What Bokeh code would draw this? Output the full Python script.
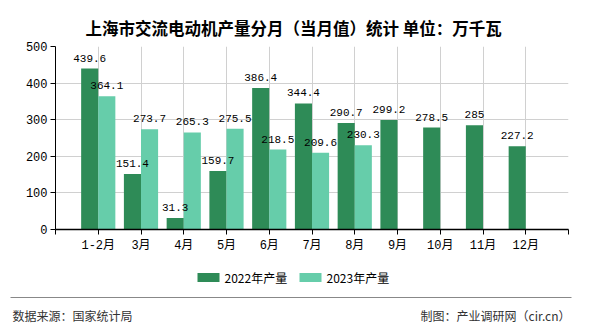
from bokeh.plotting import figure
from bokeh.models import ColumnDataSource, FixedTicker, Range1d, LabelSet
from bokeh.layouts import column
from bokeh.embed import file_html
from bokeh.resources import INLINE
from bokeh.core.properties import value

categories = ["1-2月", "3月", "4月", "5月", "6月", "7月", "8月", "9月", "10月", "11月", "12月"]
y2022 = [439.6, 151.4, 31.3, 159.7, 386.4, 344.4, 290.7, 299.2, 278.5, 285, 227.2]
y2023 = [364.1, 273.7, 265.3, 275.5, 218.5, 209.6, 230.3]
series_names = ["2022年产量", "2023年产量"]
yticks = [0, 100, 200, 300, 400, 500]
title_text = "上海市交流电动机产量分月（当月值）统计 单位：万千瓦"
source_text = "数据来源：国家统计局"
credit_text = "制图：产业调研网（cir.cn）"

C1 = "#2E8B57"
C2 = "#66CDAA"
MONO = "'Liberation Mono', 'Noto Sans CJK SC'"
CJK = "'Noto Sans CJK SC'"

W = 590
H1 = 262
H2 = 68
L, R, T, B = 55, 22, 46, 33

p = figure(width=W, height=H1, output_backend="svg", toolbar_location=None,
           x_range=Range1d(-1, len(categories)), y_range=Range1d(0, 500),
           min_border_left=L, min_border_right=R, min_border_top=T, min_border_bottom=B)
p.outline_line_color = None
p.background_fill_color = "white"
p.frame_align = False

n = len(categories)
s1 = ColumnDataSource(dict(x=[i - 0.2 for i in range(n)], top=y2022, lab=[f"{v:g}" for v in y2022]))
s2 = ColumnDataSource(dict(x=[i + 0.2 for i in range(len(y2023))], top=y2023, lab=[f"{v:g}" for v in y2023]))

p.vbar(x="x", top="top", width=0.4, source=s1, fill_color=C1, line_color=None)
p.vbar(x="x", top="top", width=0.4, source=s2, fill_color=C2, line_color=None)

for s in (s1, s2):
    p.add_layout(LabelSet(x="x", y="top", text="lab", source=s, text_align="center",
                          text_baseline="alphabetic", y_offset=7,
                          text_font=value(MONO), text_font_size="11px", text_color="black"))

# axes
p.xaxis.ticker = FixedTicker(ticks=list(range(-1, n + 1)))
ov = {i: c for i, c in enumerate(categories)}
ov[-1] = ""
ov[n] = ""
p.xaxis.major_label_overrides = ov
p.xaxis.major_label_text_font = MONO
p.xaxis.major_label_text_font_size = "12px"
p.xaxis.major_label_text_color = "black"
p.xaxis.axis_line_color = "black"
p.xaxis.axis_line_width = 1.5
p.xaxis.major_tick_line_color = "black"
p.xaxis.major_tick_out = 5
p.xaxis.major_tick_in = 0
p.xaxis.minor_tick_line_color = None
p.xaxis.major_label_standoff = 4

p.yaxis.ticker = FixedTicker(ticks=yticks)
p.yaxis.major_label_text_font = MONO
p.yaxis.major_label_text_font_size = "12px"
p.yaxis.major_label_text_color = "black"
p.yaxis.axis_line_color = "black"
p.yaxis.major_tick_line_color = "black"
p.yaxis.major_tick_out = 5
p.yaxis.major_tick_in = 0
p.yaxis.minor_tick_line_color = None
p.yaxis.major_label_standoff = 3

p.xgrid.ticker = FixedTicker(ticks=list(range(-1, n + 1)))
p.xgrid.grid_line_color = "#d0d0d0"
p.ygrid.grid_line_color = "#d0d0d0"

# title
p.title.text = title_text
p.title.align = "left"
p.title.offset = 30
p.title.standoff = 10
p.title.vertical_align = "top"
p.title.text_font = CJK
p.title.text_font_size = "16.5px"
p.title.text_font_style = "bold"
p.title.text_color = "black"

# legend + footer strip (frame covers the whole strip; coords are pixels from strip top-left)
p2 = figure(width=W, height=H2, output_backend="svg", toolbar_location=None,
            x_range=Range1d(0, W), y_range=Range1d(H2, 0),
            x_axis_location=None, y_axis_location=None,
            min_border=0, min_border_left=0, min_border_right=0, min_border_top=0, min_border_bottom=0)
p2.outline_line_color = None
p2.xgrid.visible = False
p2.ygrid.visible = False
p2.frame_align = False

leg_x = [197, 299]
leg_y = 15
p2.rect(x=[lx + 11 for lx in leg_x], y=[leg_y, leg_y], width=22, height=9,
        fill_color=[C1, C2], line_color=None)
p2.text(x=[lx + 27 for lx in leg_x], y=[leg_y, leg_y], text=series_names,
        text_align="left", text_baseline="middle",
        text_font=value(CJK), text_font_size="12px", text_color="black")

p2.segment(x0=[10], y0=[35], x1=[571], y1=[35], line_color="#888888", line_width=1)
p2.text(x=[12], y=[53], text=[source_text], text_align="left", text_baseline="middle",
        text_font=value(CJK), text_font_size="12px", text_color="#333333")
p2.text(x=[570], y=[53], text=[credit_text], text_align="right", text_baseline="middle",
        text_font=value(CJK), text_font_size="12px", text_color="#333333")

layout = column(p, p2, spacing=0)
open("out.html", "w").write(file_html(layout, INLINE))
